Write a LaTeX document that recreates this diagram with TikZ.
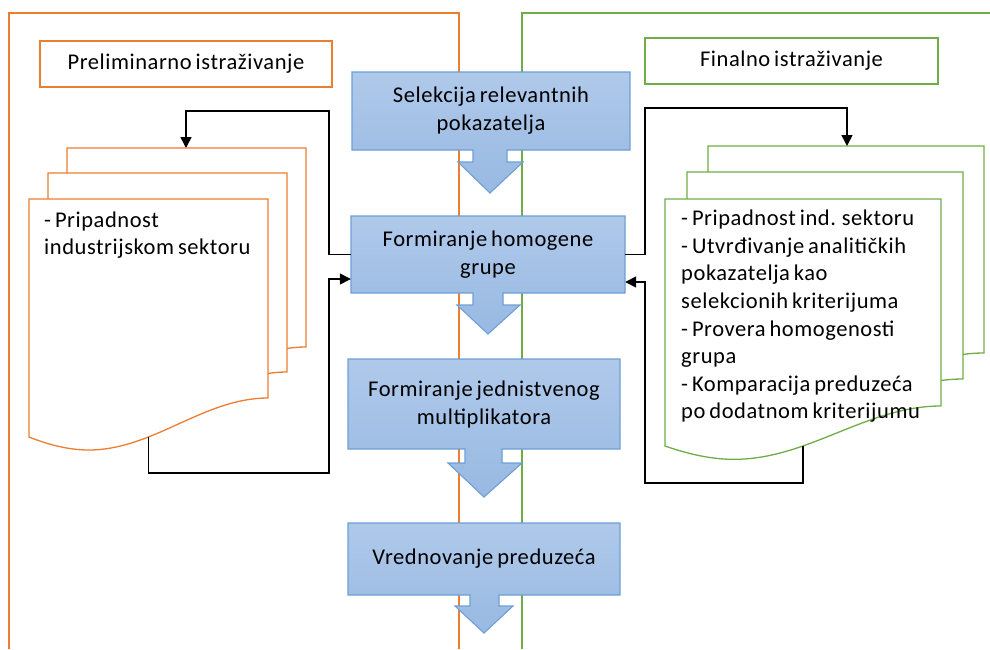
\documentclass[tikz,border=0pt]{standalone}
\usepackage{fontspec}
\setmainfont{Carlito}[LetterSpace=2.5, WordSpace=0.7]
\usetikzlibrary{arrows.meta}
\definecolor{orng}{HTML}{ED7D31}
\definecolor{grn}{HTML}{70AD47}
\definecolor{bltop}{HTML}{AFC9EA}
\definecolor{blbot}{HTML}{98B9E2}
\definecolor{blbd}{HTML}{6D9FD6}
\newcommand{\docpage}[6]{%
  \pgfmathsetmacro{\docA}{(#5-#4)/1.5}%
  \pgfmathsetmacro{\docT}{#5+\docA/2}%
  \path[draw=#6, fill=white, line width=1.3pt] (#1,#2) -- ({#1+#3},#2) -- ({#1+#3},{#2+#4})
    .. controls ({#1+0.73*#3},{#2+#4}) and ({#1+0.52*#3},{#2+\docT}) .. ({#1+0.25*#3},{#2+\docT})
    .. controls ({#1+0.167*#3},{#2+\docT}) and ({#1+0.083*#3},{#2+#5+0.3*\docA}) .. (#1,{#2+#5}) -- cycle;}
\tikzset{
  callpath/.style={draw=blbd, line width=1.1pt, top color=bltop, bottom color=blbot},
  ctext/.style={align=center, inner sep=0pt, font=\fontsize{22.5}{28}\selectfont},
  titlebox/.style={draw=#1, line width=1.3pt, fill=white, inner sep=0pt, font=\fontsize{22.5}{27}\selectfont},
  doctext/.style={align=left, inner sep=0pt, anchor=west, font=\fontsize{22.5}{27.6}\selectfont},
  frame/.style={line width=1.3pt},
  conn/.style={line width=1.5pt, black},
  tip/.style={-{Triangle[length=11pt,width=11pt]}}
}
\begin{document}
\begin{tikzpicture}[x=1pt,y=-1pt]
\useasboundingbox (0,0) rectangle (990,649);
% swimlane frames
\draw[frame, orng] (9,649) -- (9,13) -- (459,13) -- (459,649);
\draw[frame, grn] (522,649) -- (522,13) -- (990,13);
% titles
\node[titlebox=orng, minimum width=292, minimum height=46] (prel) at (186,64) {Preliminarno istraživanje};
\node[titlebox=grn, minimum width=293, minimum height=46] (fin) at (791.5,61) {Finalno istraživanje};
% left document stack
\docpage{67}{148}{239}{199}{238}{orng}
\docpage{48}{173}{239}{199}{238}{orng}
\docpage{29}{199}{239}{199}{238}{orng}
\coordinate (ldocTop) at (186,148);
\coordinate (ldocBot) at (148.5,437);
\node[doctext] (ltext) at (44,235) {- Pripadnost\\industrijskom sektoru};
% right document stack
\docpage{708}{146}{276}{207}{247}{grn}
\docpage{687}{172}{276}{207}{247}{grn}
\docpage{665}{199}{276}{207}{247}{grn}
\coordinate (rdocTop) at (847,146);
\coordinate (rdocBot) at (803,446);
\node[doctext] (rtext) at (681,316.5) {- Pripadnost ind. sektoru\\- Utvrđivanje analitičkih\\pokazatelja kao\\selekcionih kriterijuma\\- Provera homogenosti\\grupa\\- Komparacija preduzeća\\po dodatnom kriterijumu};
% callouts
\path[callpath] (352,72) -- (630,72) -- (630,150) -- (507,150) -- (507,162) -- (523,162) -- (490,193) -- (458,162) -- (473,162) -- (473,150) -- (352,150) -- cycle;
\node[ctext, minimum width=278, minimum height=78] (sel) at (491,111) {Selekcija relevantnih\\pokazatelja};
\path[callpath] (351,216) -- (625,216) -- (625,293) -- (503,293) -- (503,305) -- (520,305) -- (488,334) -- (457,305) -- (473,305) -- (473,293) -- (351,293) -- cycle;
\node[ctext, minimum width=274, minimum height=77] (hom) at (488,254.5) {Formiranje homogene\\grupe};
\path[callpath] (348,359) -- (620,359) -- (620,449) -- (502,449) -- (502,463) -- (522,463) -- (484,497) -- (448,463) -- (465,463) -- (465,449) -- (348,449) -- cycle;
\node[ctext, minimum width=272, minimum height=90] (mult) at (484,404) {Formiranje jednistvenog\\multiplikatora};
\path[callpath] (348,523) -- (620,523) -- (620,595) -- (499,595) -- (499,606) -- (513,606) -- (484,633) -- (455,606) -- (470,606) -- (470,595) -- (348,595) -- cycle;
\node[ctext, minimum width=272, minimum height=72] (vred) at (484,559) {Vrednovanje preduzeća};
% connectors
\coordinate (lc1) at (329,111);
\coordinate (lc2) at (329,473);
\coordinate (rc1) at (645,108);
\coordinate (rc2) at (645,483);
\draw[conn, tip] (hom.west) -| (lc1) -| (ldocTop);
\draw[conn, tip] (ldocBot) |- (lc2) |- ([yshift=-24.5pt]hom.west);
\draw[conn, tip] (hom.east) -| (rc1) -| (rdocTop);
\draw[conn, tip] (rdocBot) |- (rc2) |- ([yshift=-27.5pt]hom.east);
\end{tikzpicture}
\end{document}
